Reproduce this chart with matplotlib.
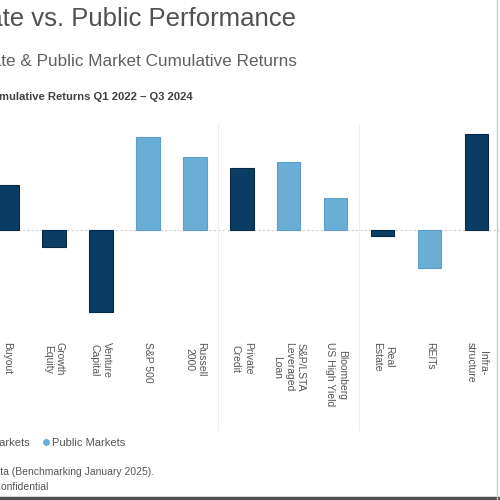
import matplotlib.pyplot as plt
from matplotlib.lines import Line2D

# Cumulative returns Q1 2022 - Q3 2024 (%)
categories = ["Buyout", "Growth\nEquity", "Venture\nCapital", "S&P 500", "Russell\n2000",
              "Private\nCredit", "S&P/LSTA\nLeveraged\nLoan", "Bloomberg\nUS High Yield",
              "Real\nEstate", "REITs", "Infra-\nstructure"]
returns = [12.2, -4.6, -22.1, 25.1, 19.7, 16.7, 18.4, 8.6, -1.7, -10.3, 25.9]
market = ["private", "private", "private", "public", "public",
          "private", "public", "public", "private", "public", "private"]
group_breaks = [4.5, 7.5]

colors = {"private": "#0b3c64", "public": "#6aaed6"}
edges = {"private": "#072a47", "public": "#5e9fc8"}

fig = plt.figure(figsize=(5, 5), dpi=100)
plt.rcParams['font.family'] = ['Liberation Sans', 'DejaVu Sans']

# axes spans the whole width so the leftmost bar is cut like the screenshot
ax = fig.add_axes([0, 0.34, 1, 0.42])
x = list(range(len(categories)))
ax.bar(x, returns, width=0.49,
       color=[colors[m] for m in market],
       edgecolor=[edges[m] for m in market], linewidth=0.8)
ax.axhline(0, color="#d0d0d0", lw=0.8, ls=(0, (2, 2)), zorder=0)
ax.set_xlim(-0.149, 10.49)
ax.set_ylim(-27, 29.7)
ax.set_yticks([])
ax.set_xticks(x)
ax.set_xticklabels(categories, rotation=270, fontsize=7.5, color="#555555",
                   va="top", ha="center", linespacing=1.25)
ax.tick_params(axis="x", length=0, pad=9)
for s in ax.spines.values():
    s.set_visible(False)

# faint group separators
for b in group_breaks:
    xp = (b + 0.149) / (10.49 + 0.149)
    fig.add_artist(Line2D([xp, xp], [0.14, 0.75], color="#ececec", lw=0.8))

# titles (cut off on the left like the source image)
fig.text(0.593, 0.962, "Private vs. Public Performance", ha="right", va="center",
         fontsize=18.5, color="#505050")
fig.text(0.593, 0.878, "Private & Public Market Cumulative Returns", ha="right",
         va="center", fontsize=12.3, color="#606060")
fig.text(0.385, 0.806, "Cumulative Returns Q1 2022 \u2013 Q3 2024", ha="right",
         va="center", fontsize=8.1, color="#404040", fontweight="bold")

# legend
handles = [Line2D([], [], ls="", marker="o", ms=4, color=colors["private"],
                  label="Private Markets"),
           Line2D([], [], ls="", marker="o", ms=4, color=colors["public"],
                  label="Public Markets")]
fig.legend(handles=handles, loc="center right", bbox_to_anchor=(0.25, 0.115),
           ncol=2, frameon=False, fontsize=8, handlelength=0.5,
           columnspacing=1.2, handletextpad=0.3, labelcolor="#555555",
           borderaxespad=0, borderpad=0)

fig.text(0.308, 0.056, "Source: PitchBook Data (Benchmarking January 2025).",
         ha="right", va="center", fontsize=7.5, color="#555555")
fig.text(0.097, 0.026, "Private and Confidential", ha="right", va="center",
         fontsize=7.5, color="#555555")

# screenshot frame
fig.add_artist(Line2D([0, 1], [0.004, 0.004], color="#505050", lw=2.5))
fig.add_artist(Line2D([0.994, 0.994], [0, 1], color="#c8c8c8", lw=1))

fig.savefig("out.png", dpi=100)
